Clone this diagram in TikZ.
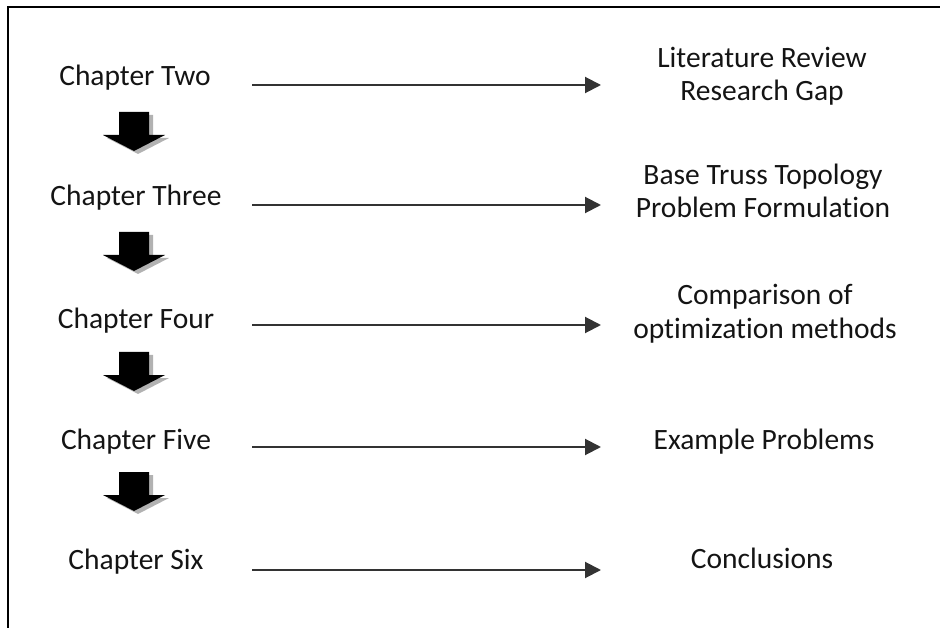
\documentclass[tikz,border=0pt]{standalone}
\usepackage{fontspec}
\setmainfont{Carlito}[Ligatures=NoCommon]
\usetikzlibrary{arrows.meta}
\begin{document}
\begin{tikzpicture}[x=1pt,y=-1pt,
  lbl/.style={font=\fontsize{29.5}{33}\selectfont, inner sep=0pt, align=center, text=black!92, anchor=base},
  conn/.style={draw=black!80, line width=2pt, -{Triangle[length=16pt,width=16pt]}},
  blk/.style={fill=black},
  blkshadow/.style={fill=black!30},
  frame/.style={draw=black, line width=2.2pt}
]
\useasboundingbox (0,0) rectangle (940,628);
\draw[frame] (8,629) -- (8,7) -- (941,7);

% left column
\node[lbl] (c2) at (135,86) {Chapter Two};
\node[lbl] (c3) at (136,206) {Chapter Three};
\node[lbl] (c4) at (136,329) {Chapter Four};
\node[lbl] (c5) at (136,449) {Chapter Five};
\node[lbl] (c6) at (136,569) {Chapter Six};

% right column (base anchor = last line)
\node[lbl] (r2) at (762,101) {Literature Review\\Research Gap};
\node[lbl] (r3) at (763,218) {Base Truss Topology\\Problem Formulation};
\node[lbl] (r4) at (765,338) {Comparison of\\optimization methods};
\node[lbl] (r5) at (764,449) {Example Problems};
\node[lbl] (r6) at (762,568) {Conclusions};

% connector end points
\coordinate (s2) at (252,85);  \coordinate (e2) at (601,85);
\coordinate (s3) at (252,205); \coordinate (e3) at (601,205);
\coordinate (s4) at (252,325); \coordinate (e4) at (601,325);
\coordinate (s5) at (252,447); \coordinate (e5) at (601,447);
\coordinate (s6) at (252,570); \coordinate (e6) at (601,570);
\foreach \k in {2,...,6} {\draw[conn] (s\k) -- (e\k);}

% block down arrows
\foreach \k in {0,1,2,3} {
  \begin{scope}[yshift=-120*\k pt]
    \fill[blkshadow] (123,115) -- (153,115) -- (153,138) -- (169,138) -- (138,154) -- (107,138) -- (123,138) -- cycle;
    \fill[blk] (119,112) -- (149,112) -- (149,135) -- (165,135) -- (134,151) -- (103,135) -- (119,135) -- cycle;
  \end{scope}
}
\end{tikzpicture}
\end{document}
